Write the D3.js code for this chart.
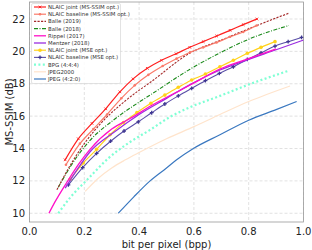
<!DOCTYPE html>
<html>
<head>
<meta charset="utf-8">
<style>
  body { margin: 0; background: white; font-family: "DejaVu Sans", sans-serif; }
  .grid line { stroke: #d9d9d9; stroke-width: 0.8; stroke-dasharray: 3, 2; }
  .tick-label { font-size: 10px; fill: #222; }
  .axis-label { font-size: 10px; fill: #222; }
  .legend text { font-size: 5.4px; fill: #333; }
</style>
</head>
<body>
<div id="chart"></div>
<script src="https://d3js.org/d3.v7.min.js"></script>
<script>
// ---- data: [bpp, MS-SSIM dB] ----
var nlaicJointMsssim = [[0.130,13.3],[0.178,14.6],[0.228,15.55],[0.278,16.45],[0.330,17.5],[0.378,18.3],[0.430,18.95],[0.482,19.45],[0.535,19.85],[0.585,20.25],[0.634,20.6],[0.683,20.95],[0.732,21.3],[0.780,21.65],[0.830,22.0]]
var nlaicBaseMsssim = [[0.133,13.0],[0.184,14.3],[0.233,15.2],[0.283,16.1],[0.335,17.1],[0.384,17.9],[0.434,18.55],[0.486,19.1],[0.537,19.55],[0.586,19.95],[0.634,20.25],[0.683,20.55],[0.732,20.9],[0.780,21.2],[0.829,21.6]]
var balle2019 = [[0.100,11.45],[0.150,13.0],[0.200,14.3],[0.263,15.6],[0.350,16.95],[0.450,18.2],[0.586,19.9],[0.700,20.7],[0.830,21.6],[0.945,22.35]]
var balle2018 = [[0.105,11.6],[0.150,12.9],[0.221,14.5],[0.306,15.75],[0.403,16.9],[0.440,17.3],[0.586,18.9],[0.700,19.95],[0.800,20.75],[0.947,21.6]]
var rippel2017 = [[0.071,10.0],[0.093,10.7],[0.136,11.9],[0.180,13.05],[0.221,13.95],[0.300,15.2],[0.367,15.85],[0.450,16.7],[0.550,17.6],[0.600,18.05],[0.695,18.9],[0.800,19.55],[0.900,20.15]]
var mentzer2018 = [[0.130,11.55],[0.180,12.85],[0.221,13.8],[0.312,15.05],[0.400,16.1],[0.500,17.1],[0.586,17.95],[0.695,18.85],[0.790,19.45],[0.900,20.1],[1.000,20.7]]
var nlaicJointMse = [[0.148,12.1],[0.196,13.1],[0.245,13.95],[0.294,14.85],[0.343,15.6],[0.392,16.22],[0.443,16.8],[0.494,17.3],[0.543,17.78],[0.592,18.23],[0.642,18.6],[0.695,19.05],[0.744,19.45],[0.795,19.88],[0.845,20.25],[0.896,20.6]]
var nlaicBaseMse = [[0.142,11.75],[0.194,12.82],[0.245,13.7],[0.296,14.45],[0.345,15.08],[0.397,15.65],[0.446,16.21],[0.494,16.75],[0.543,17.25],[0.592,17.72],[0.642,18.19],[0.693,18.64],[0.744,19.05],[0.795,19.5],[0.845,19.91],[0.896,20.33],[0.944,20.6],[0.993,20.86]]
var bpg444 = [[0.105,10.0],[0.150,11.0],[0.215,12.15],[0.288,13.4],[0.367,14.4],[0.440,15.15],[0.513,15.95],[0.586,16.55],[0.695,17.25],[0.800,17.95],[0.945,18.8]]
var jpeg2000 = [[0.203,11.35],[0.250,12.15],[0.300,12.8],[0.350,13.3],[0.400,13.75],[0.500,14.6],[0.600,15.35],[0.695,16.1],[0.800,16.9],[0.951,17.86]]
var jpeg420 = [[0.324,10.0],[0.380,11.0],[0.440,12.0],[0.500,12.8],[0.537,13.3],[0.598,14.0],[0.695,14.85],[0.800,15.75],[0.900,16.4],[0.975,16.9]]

var xTicks = [0.0, 0.2, 0.4, 0.6, 0.8, 1.0]
var yTicks = [10, 12, 14, 16, 18, 20, 22]

// series: name, data, colour, dash, marker
var series = [
  { name: "NLAIC joint (MS-SSIM opt.)", data: nlaicJointMsssim, color: "#ff2020", dash: null, marker: "x", width: 1.2 },
  { name: "NLAIC baseline (MS-SSIM opt.)", data: nlaicBaseMsssim, color: "#fa7a6a", dash: null, marker: "dot", width: 1.2 },
  { name: "Balle (2019)", data: balle2019, color: "#a52a2a", dash: "2.2,1.3", marker: null, width: 1.1 },
  { name: "Balle (2018)", data: balle2018, color: "#1a8a1a", dash: "4,1.5,1,1.5", marker: null, width: 1.1 },
  { name: "Rippel (2017)", data: rippel2017, color: "#ff10c8", dash: null, marker: null, width: 1.3 },
  { name: "Mentzer (2018)", data: mentzer2018, color: "#9a2ee0", dash: null, marker: null, width: 1.3 },
  { name: "NLAIC joint (MSE opt.)", data: nlaicJointMse, color: "#ffd21a", dash: null, marker: "circle", width: 1.2 },
  { name: "NLAIC baseline (MSE opt.)", data: nlaicBaseMse, color: "#5a4fa8", dash: null, marker: "cross", width: 1.1 },
  { name: "BPG (4:4:4)", data: bpg444, color: "#7fffd4", dash: "2,2.4", marker: null, width: 2.2 },
  { name: "JPEG2000", data: jpeg2000, color: "#ffe4cc", dash: null, marker: null, width: 1.2 },
  { name: "JPEG (4:2:0)", data: jpeg420, color: "#3a78c0", dash: null, marker: null, width: 1.2 }
]

var width = 312, height = 250
var plotLeft = 29.5, plotRight = 303.5, plotTop = 2, plotBottom = 222

var svg = d3.select("#chart").append("svg")
  .attr("width", width)
  .attr("height", height)

var x = d3.scaleLinear().domain([0, 1]).range([plotLeft, plotRight])
var y = d3.scaleLinear().domain([9.46, 23.05]).range([plotBottom, plotTop])

// grid
var grid = svg.append("g").attr("class", "grid")
grid.selectAll(".gx").data(xTicks).enter().append("line")
  .attr("x1", function (d) { return x(d) }).attr("x2", function (d) { return x(d) })
  .attr("y1", plotTop).attr("y2", plotBottom)
grid.selectAll(".gy").data(yTicks).enter().append("line")
  .attr("y1", function (d) { return y(d) }).attr("y2", function (d) { return y(d) })
  .attr("x1", plotLeft).attr("x2", plotRight)

// frame
svg.append("rect")
  .attr("x", plotLeft).attr("y", plotTop)
  .attr("width", plotRight - plotLeft).attr("height", plotBottom - plotTop)
  .attr("fill", "none").attr("stroke", "#9a9a9a").attr("stroke-width", 0.8)

// tick labels
svg.selectAll(".xl").data(xTicks).enter().append("text")
  .attr("class", "tick-label")
  .attr("x", function (d) { return x(d) })
  .attr("y", 235)
  .attr("text-anchor", "middle")
  .text(d3.format(".1f"))
svg.selectAll(".yl").data(yTicks).enter().append("text")
  .attr("class", "tick-label")
  .attr("x", 25)
  .attr("y", function (d) { return y(d) + 3.6 })
  .attr("text-anchor", "end")
  .text(function (d) { return d })

svg.append("text").attr("class", "axis-label")
  .attr("x", (plotLeft + plotRight) / 2).attr("y", 247.5)
  .attr("text-anchor", "middle")
  .text("bit per pixel (bpp)")
svg.append("text").attr("class", "axis-label")
  .attr("transform", "translate(13," + ((plotTop + plotBottom) / 2) + ") rotate(-90)")
  .attr("text-anchor", "middle")
  .text("MS-SSIM (dB)")

// clip
svg.append("clipPath").attr("id", "clip").append("rect")
  .attr("x", plotLeft).attr("y", plotTop).attr("width", plotRight - plotLeft).attr("height", plotBottom - plotTop)

var plot = svg.append("g").attr("clip-path", "url(#clip)")

var line = d3.line()
  .x(function (d) { return x(d[0]) })
  .y(function (d) { return y(d[1]) })
  .curve(d3.curveMonotoneX)

function drawMarker(g, kind, color, cx, cy) {
  if (kind === "x") {
    g.append("path")
      .attr("d", "M-1.3,-1.3L1.3,1.3M-1.3,1.3L1.3,-1.3")
      .attr("transform", "translate(" + cx + "," + cy + ")")
      .attr("stroke", color).attr("stroke-width", 0.9)
  } else if (kind === "dot") {
    g.append("circle").attr("cx", cx).attr("cy", cy).attr("r", 1.3).attr("fill", color)
  } else if (kind === "circle") {
    g.append("circle").attr("cx", cx).attr("cy", cy).attr("r", 1.8).attr("fill", color)
  } else if (kind === "cross") {
    g.append("path")
      .attr("d", d3.symbol().type(d3.symbolCross).size(8)())
      .attr("transform", "translate(" + cx + "," + cy + ")")
      .attr("fill", "#3d3590")
  }
}

// draw in reverse so the first series sits on top
series.slice().reverse().forEach(function (s) {
  plot.append("path")
    .datum(s.data)
    .attr("d", line)
    .attr("fill", "none")
    .attr("stroke", s.color)
    .attr("stroke-width", s.width)
    .attr("stroke-dasharray", s.dash)
  if (s.marker) {
    var mg = plot.append("g")
    s.data.forEach(function (d) { drawMarker(mg, s.marker, s.color, x(d[0]), y(d[1])) })
  }
})

// legend
var legend = svg.append("g").attr("class", "legend")
legend.append("rect")
  .attr("x", 31.5).attr("y", 3.5).attr("width", 89).attr("height", 80)
  .attr("rx", 1.5)
  .attr("fill", "white").attr("fill-opacity", 0.85)
  .attr("stroke", "#d0d0d0").attr("stroke-width", 0.6)

series.forEach(function (s, i) {
  var cy = 7 + i * 7.2
  legend.append("line")
    .attr("x1", 34).attr("x2", 46).attr("y1", cy).attr("y2", cy)
    .attr("stroke", s.color).attr("stroke-width", s.width)
    .attr("stroke-dasharray", s.dash)
  if (s.marker) drawMarker(legend, s.marker, s.color, 40, cy)
  legend.append("text")
    .attr("x", 48).attr("y", cy + 1.9)
    .text(s.name)
})
</script>
</body>
</html>
